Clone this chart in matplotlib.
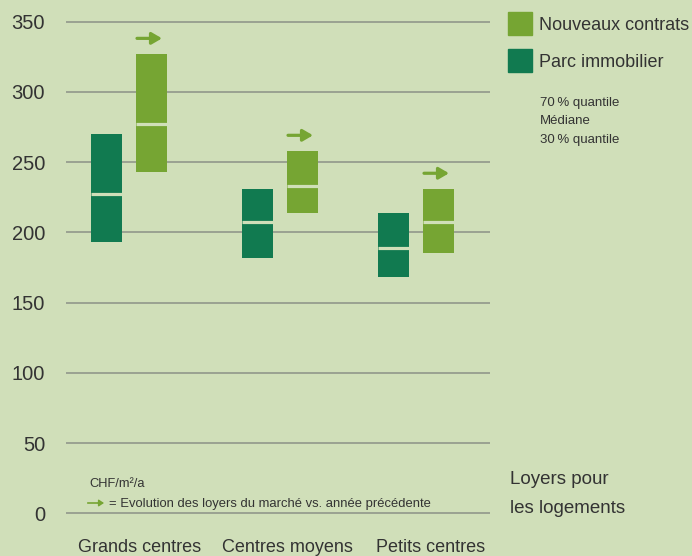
import numpy as np
import matplotlib.pyplot as plt
from matplotlib.patches import Rectangle

plt.rcParams['font.family'] = ['Liberation Sans', 'DejaVu Sans']

categories = ['Grands centres', 'Centres moyens', 'Petits centres']
parc_q30 = [193, 182, 168]
parc_median = [227, 207, 189]
parc_q70 = [270, 231, 214]
nouveaux_q30 = [243, 214, 185]
nouveaux_median = [277, 233, 207]
nouveaux_q70 = [327, 258, 231]
trend_angle = [0, 0, 0]  # market rent evolution vs previous year (0 = stable)
yticks = [0, 50, 100, 150, 200, 250, 300, 350]

bg = '#d0dfb9'
dark = '#117a50'
light = '#76a533'
grid_c = '#8c9187'
text_c = '#333333'

W, H = 692, 556

def fx(x):
    return x / W

def fy(y):
    return 1 - y / H

# layout (x in pixel-like units)
group_x = np.array([129, 280, 416])
label_x = [140, 287, 431]
offset = 22.5
bar_w = 31

fig = plt.figure(figsize=(W / 100, H / 100), dpi=100, facecolor=bg)
ppu = (513.3 - 21.5) / 350
ax = fig.add_axes([fx(66), fy(513.3 + 5 * ppu), (490 - 66) / W, (360 * ppu) / H])
ax.set_facecolor(bg)
ax.set_xlim(66, 490)
ax.set_ylim(-5, 355)
for s in ax.spines.values():
    s.set_visible(False)

for t in yticks:
    ax.axhline(t, color=grid_c, lw=1.1, zorder=1)

p30, pm, p70 = map(np.array, (parc_q30, parc_median, parc_q70))
n30, nm, n70 = map(np.array, (nouveaux_q30, nouveaux_median, nouveaux_q70))

xp = group_x - offset
xn = group_x + offset
ax.bar(xp, p70 - p30, bottom=p30, width=bar_w, color=dark, zorder=2)
ax.bar(xn, n70 - n30, bottom=n30, width=bar_w, color=light, zorder=2)
ax.hlines(pm, xp - bar_w / 2, xp + bar_w / 2, color=bg, lw=2.3, zorder=3)
ax.hlines(nm, xn - bar_w / 2, xn + bar_w / 2, color=bg, lw=2.3, zorder=3)

# trend arrows above new contracts
for x, top, ang in zip(xn, n70, trend_angle):
    x0 = x - bar_w / 2 + 1
    y0 = top + 11
    L = 25
    x1 = x0 + L * np.cos(np.radians(ang))
    y1 = y0 + L * np.sin(np.radians(ang)) / ppu
    ax.annotate('', xy=(x1, y1), xytext=(x0, y0),
                arrowprops=dict(arrowstyle='-|>,head_length=0.6,head_width=0.35',
                                lw=2.3, color=light, shrinkA=0, shrinkB=0))

ax.set_yticks(yticks)
ax.set_yticklabels([str(t) for t in yticks], fontsize=14.5, color=text_c)
ax.tick_params(axis='y', length=0, pad=15)
ax.set_xticks(label_x)
ax.set_xticklabels(categories, fontsize=13, color=text_c)
ax.tick_params(axis='x', length=0, pad=13.5)

# legend
fig.add_artist(Rectangle((fx(508), fy(34.7)), 24 / W, 22.7 / H, color=light,
                         transform=fig.transFigure))
fig.add_artist(Rectangle((fx(508), fy(72)), 24 / W, 22.7 / H, color=dark,
                         transform=fig.transFigure))
fig.text(fx(539), fy(29.5), 'Nouveaux contrats', fontsize=13, color=text_c, va='baseline')
fig.text(fx(539), fy(67), 'Parc immobilier', fontsize=13, color=text_c, va='baseline')
for txt, yb in zip(['70\u2009% quantile', 'Médiane', '30\u2009% quantile'], [106, 124.5, 143]):
    fig.text(fx(540), fy(yb), txt, fontsize=9.5, color=text_c, va='baseline')

# notes
fig.text(fx(89), fy(487.3), 'CHF/m²/a', fontsize=9.3, color=text_c, va='baseline')
fig.add_artist(plt.Line2D([fx(88), fx(100)], [fy(503), fy(503)], color=light, lw=1.2,
                          transform=fig.transFigure))
ax.annotate('', xy=(fx(104), fy(503)), xytext=(fx(98), fy(503)), xycoords='figure fraction',
            arrowprops=dict(arrowstyle='-|>,head_length=0.3,head_width=0.2',
                            lw=1.0, color=light, shrinkA=0, shrinkB=0))
fig.text(fx(109), fy(506.7), '= Evolution des loyers du marché vs. année précédente',
         fontsize=9.4, color=text_c, va='baseline')

fig.text(fx(510), fy(484.3), 'Loyers pour', fontsize=13.5, color=text_c, va='baseline')
fig.text(fx(510), fy(513.3), 'les logements', fontsize=13.5, color=text_c, va='baseline')

fig.savefig('out.png', dpi=100, facecolor=bg)
